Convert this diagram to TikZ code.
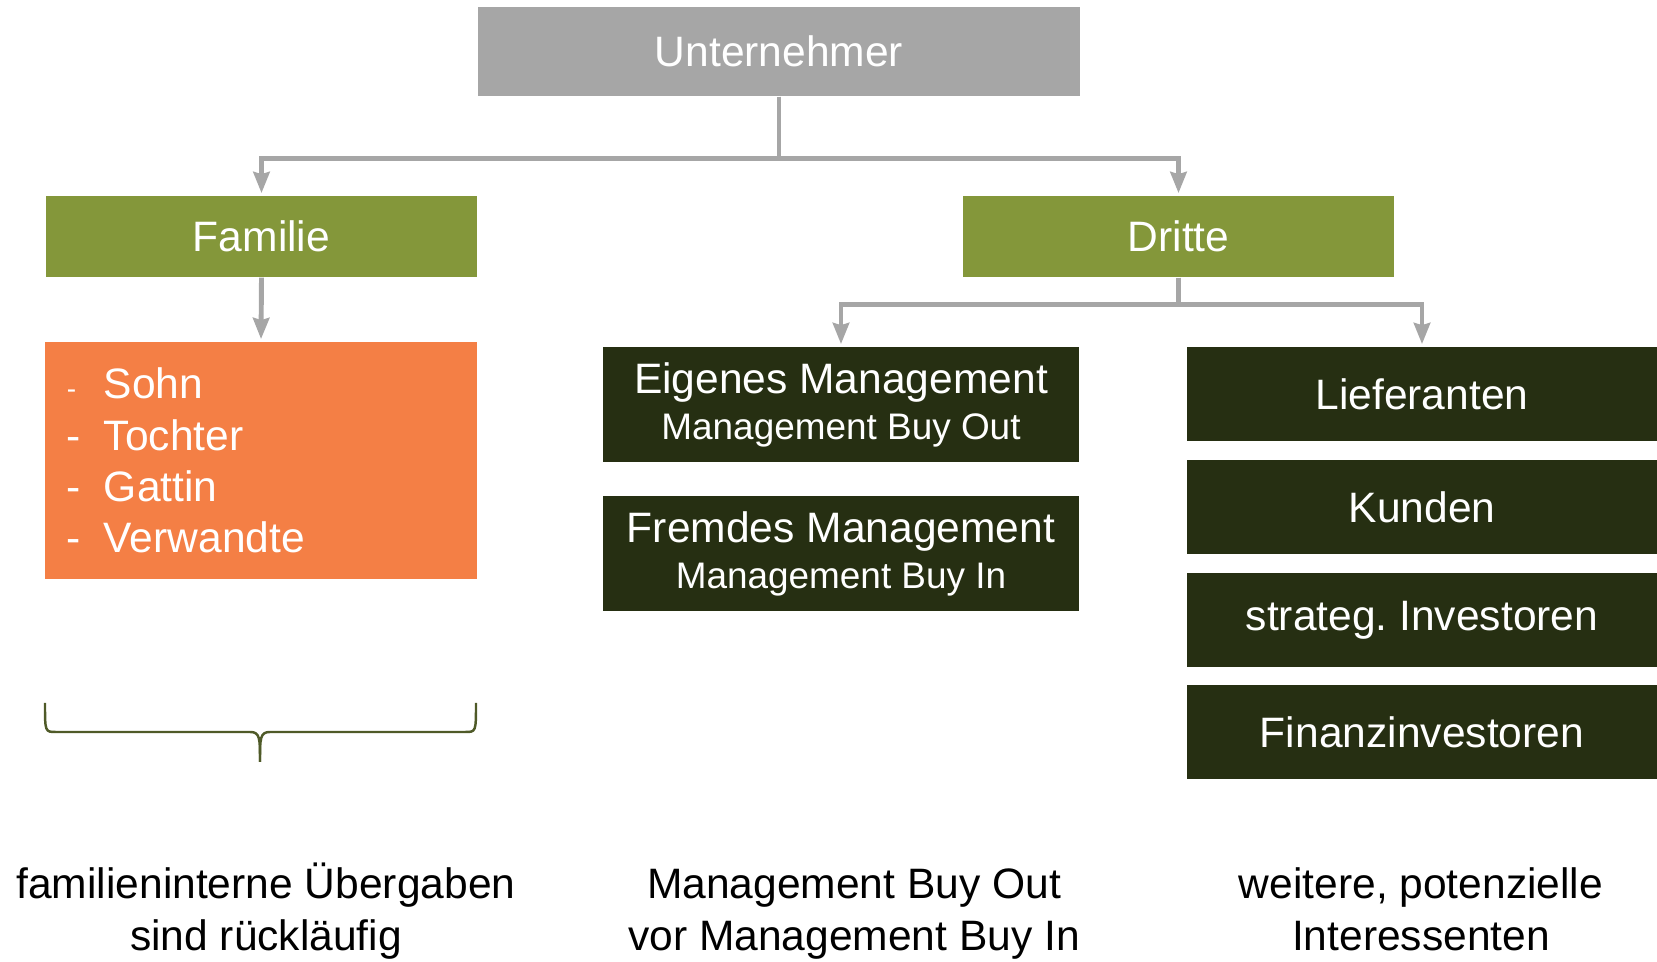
\documentclass[tikz,border=0pt]{standalone}
\usepackage{fontspec}
\setmainfont{Liberation Sans}
\usetikzlibrary{arrows.meta}

\definecolor{untgrey}{HTML}{A6A6A6}
\definecolor{famgreen}{HTML}{84973A}
\definecolor{listorange}{HTML}{F47F45}
\definecolor{darkgreen}{HTML}{262F12}
\definecolor{bracegreen}{HTML}{4F5A28}

\newcommand{\bigfont}{\fontsize{12.1pt}{14.6pt}\selectfont}
\newcommand{\mgmtfont}{\fontsize{12.1pt}{13.1pt}\selectfont}
\newcommand{\subfont}{\fontsize{10.5pt}{13.1pt}\selectfont}
\newcommand{\notefont}{\fontsize{12.1pt}{14.8pt}\selectfont}
\newcommand{\dashitem}[1]{\makebox[0.37cm][l]{-}#1}

\tikzset{
  topbox/.style={fill=untgrey, text=white, minimum width=6.02cm, minimum height=0.89cm, inner sep=0pt, font=\bigfont},
  groupbox/.style={fill=famgreen, text=white, minimum width=4.31cm, minimum height=0.81cm, inner sep=0pt, font=\bigfont},
  listbox/.style={fill=listorange, text=white, minimum height=2.37cm, text width=3.88cm, inner xsep=0.22cm, align=left, font=\bigfont},
  mgmtbox/.style={fill=darkgreen, text=white, minimum width=4.75cm, minimum height=1.15cm, inner sep=0pt, align=center, font=\mgmtfont},
  partybox/.style={fill=darkgreen, text=white, minimum width=4.70cm, minimum height=0.94cm, inner sep=0pt, font=\bigfont},
  note/.style={align=center, inner sep=0pt, anchor=base, font=\notefont},
  conn/.style={->, draw=untgrey, line width=1.4pt, shorten >=0.6pt},
}

\begin{document}
\frenchspacing
\begin{tikzpicture}[x=0.01cm, y=-0.01cm, >={Stealth[length=6pt,width=4.6pt,inset=0.6pt]}]
\useasboundingbox (0,0) rectangle (1657,962);

% top and first level
\node[topbox] (unt) at (779,51.5) {Unternehmer};
\node[groupbox] (fam) at (261.5,236.5) {Familie};
\node[groupbox] (dri) at (1178.5,236.5) {Dritte};

% family members
\node[listbox] (list) at (261,460.5) {\makebox[0.37cm][l]{\fontsize{8pt}{8pt}\selectfont -}Sohn\\
  \dashitem{Tochter}\\ \dashitem{Gattin}\\ \dashitem{Verwandte}};

% management
\node[mgmtbox] (eig) at (841,404.5) {Eigenes Management\\{\subfont Management Buy Out}};
\node[mgmtbox] (fre) at (841,553.5) {Fremdes Management\\{\subfont Management Buy In}};

% other parties
\foreach \name/\y/\txt in {lie/394/Lieferanten, kun/507/Kunden, inv/620/strateg. Investoren, fin/732/Finanzinvestoren} {
        \node[partybox] (\name) at (1422,\y) {\txt};
    }

% connectors
\draw[conn] (unt.south) -- ++(0,62) -| (fam.north);
\draw[conn] (unt.south) -- ++(0,62) -| (dri.north);
\draw[conn] (fam.south) -- (list.north);
\draw[conn] (dri.south) -- ++(0,27) -| (eig.north);
\draw[conn] (dri.south) -- ++(0,27) -| (lie.north);

% brace under the family box
\draw[bracegreen, line width=0.7pt] (45,703) .. controls (45,732) .. (56,732) -- (250,732)
  .. controls (260,732) and (260,738) .. (260,762);
\draw[bracegreen, line width=0.7pt] (476,703) .. controls (476,732) .. (465,732) -- (270,732)
  .. controls (260,732) and (260,738) .. (260,762);

% notes (base is the last line)
\node[note] (n1) at (266,951) {familieninterne Übergaben\\sind rückläufig};
\node[note] (n2) at (854,951) {Management Buy Out\\vor Management Buy In};
\node[note] (n3) at (1421,951) {weitere, potenzielle\\Interessenten};

\end{tikzpicture}
\end{document}
